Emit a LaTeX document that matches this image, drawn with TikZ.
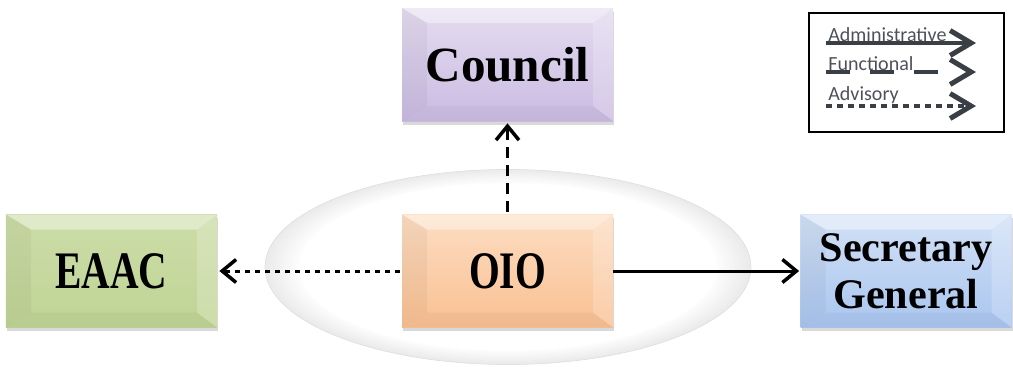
\documentclass[tikz,border=0pt]{standalone}
\usepackage{fontspec}
\setmainfont{Liberation Serif}
\newfontfamily\capsfont[FakeStretch=0.75]{Liberation Serif}
\newfontfamily\legendfont{Carlito}
\usetikzlibrary{calc,shapes.geometric,shadows,arrows.meta}

\definecolor{councilTop}{HTML}{E4DCF0}
\definecolor{councilBot}{HTML}{CABBE2}
\definecolor{eaacTop}{HTML}{CCDDA8}
\definecolor{eaacBot}{HTML}{C0D495}
\definecolor{oioTop}{HTML}{FDDDC2}
\definecolor{oioBot}{HTML}{F9C092}
\definecolor{secgenTop}{HTML}{D2E1F6}
\definecolor{secgenBot}{HTML}{A9C5EF}
\definecolor{legendInk}{HTML}{3A3F45}

\tikzset{
  bevelbox/.style={rectangle, minimum width=4.22cm, minimum height=2.26cm, inner sep=0pt,
    align=center, font=\bfseries,
    drop shadow={shadow xshift=0.02cm, shadow yshift=-0.07cm, opacity=0.3},
    path picture={
      \fill[white,opacity=0.4] (path picture bounding box.north west) -- (path picture bounding box.north east)
        -- ($(path picture bounding box.north east)+(-0.4,-0.3)$) -- ($(path picture bounding box.north west)+(0.5,-0.3)$) -- cycle;
      \fill[white,opacity=0.2] (path picture bounding box.north east) -- (path picture bounding box.south east)
        -- ($(path picture bounding box.south east)+(-0.4,0.3)$) -- ($(path picture bounding box.north east)+(-0.4,-0.3)$) -- cycle;
      \fill[black,opacity=0.04] (path picture bounding box.north west) -- (path picture bounding box.south west)
        -- ($(path picture bounding box.south west)+(0.5,0.3)$) -- ($(path picture bounding box.north west)+(0.5,-0.3)$) -- cycle;
      \fill[black,opacity=0.03] (path picture bounding box.south west) -- (path picture bounding box.south east)
        -- ($(path picture bounding box.south east)+(-0.4,0.3)$) -- ($(path picture bounding box.south west)+(0.5,0.3)$) -- cycle;
    }},
  halostyle/.style={ellipse, minimum width=9.72cm, minimum height=3.9cm, draw=black!12, line width=0.4pt,
    path picture={
      \foreach \k in {0,...,12} {
        \pgfmathsetmacro\haloGray{8-0.6*\k}
        \pgfmathsetmacro\haloScale{1-0.011*\k}
        \fill[black!\haloGray] (path picture bounding box.center) ellipse [x radius=4.86*\haloScale, y radius=1.95*\haloScale];
      }
      \fill[white] (path picture bounding box.center) ellipse [x radius=4.86*0.86, y radius=1.95*0.86];
    }},
  link/.style={line width=0.06cm, -{Straight Barb[length=0.28cm, width=0.46cm, line width=0.07cm]}},
  legendline/.style={line width=0.09cm, color=legendInk},
  legendtip/.style={legendline, -{Straight Barb[length=0.42cm, width=0.5cm, line width=0.1cm]}},
  legendtext/.style={anchor=south west, inner sep=0pt, font=\legendfont\fontsize{11.4}{11.4}\selectfont, color=legendInk!90}
}

\begin{document}
\begin{tikzpicture}
			%%%%% START %%%%%
			\useasboundingbox (0, 0) rectangle (20.26, 7.38);
			
			\node[halostyle] (halo) at (10.16, 2.04) {};
			
			\node[bevelbox, top color=councilTop, bottom color=councilBot, font=\fontsize{28}{28}\selectfont\bfseries] (council) at (10.15, 6.09) {Council};
			\node[bevelbox, top color=eaacTop, bottom color=eaacBot, font=\capsfont\fontsize{30}{30}\selectfont\bfseries] (eaac) at (2.23, 1.96) {EAAC};
			\node[bevelbox, top color=oioTop, bottom color=oioBot, font=\capsfont\fontsize{30}{30}\selectfont\bfseries] (oio) at (10.15, 1.96) {OIO};
			\node[bevelbox, top color=secgenTop, bottom color=secgenBot, font=\fontsize{24}{27}\selectfont\bfseries] (secgen) at (18.12, 1.96) {Secretary\\General};
			
			\draw[link, dash pattern=on 0.22cm off 0.14cm] ([yshift=0.04cm]oio.north) -- ([yshift=-0.04cm]council.south);
			\draw[link, dash pattern=on 0.1cm off 0.1cm] ([xshift=-0.04cm]oio.west) -- ([xshift=0.04cm]eaac.east);
			\draw[link] (oio.east) -- ([xshift=-0.02cm]secgen.west);
			
			\draw[line width=0.04cm] (16.18, 7.12) rectangle (20.08, 4.74);
			
			\coordinate (adminA) at (16.52, 6.52);
			\coordinate (adminB) at (19.52, 6.52);
			\coordinate (funcA) at (16.52, 5.94);
			\coordinate (funcB) at (19.52, 5.94);
			\coordinate (advA) at (16.52, 5.26);
			\coordinate (advB) at (19.52, 5.26);
			
			\draw[legendtip] (adminA) -- (adminB);
			\draw[legendline, dash pattern=on 0.48cm off 0.4cm] (funcA) -- ([xshift=-0.7cm]funcB);
			\draw[legendtip] ([xshift=-0.1cm]funcB) -- (funcB);
			\draw[legendline, dash pattern=on 0.11cm off 0.11cm] (advA) -- ([xshift=-0.1cm]advB);
			\draw[legendtip] ([xshift=-0.1cm]advB) -- (advB);
			
			\node[legendtext] (adminLbl) at (16.56, 6.54) {Administrative};
			\node[legendtext] (funcLbl) at (16.56, 5.96) {Functional};
			\node[legendtext] (advLbl) at (16.56, 5.29) {Advisory};
			
			%%%%% END %%%%%
		\end{tikzpicture}
\end{document}
